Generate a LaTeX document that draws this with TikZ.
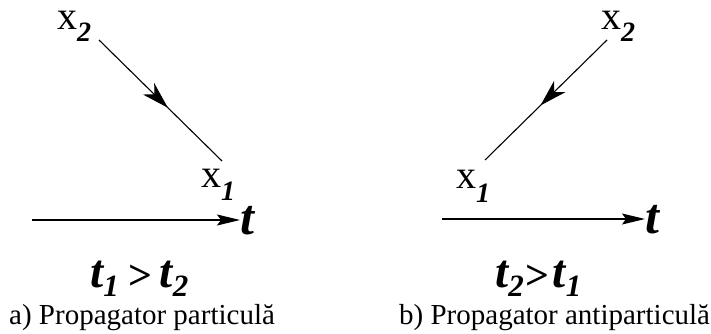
\documentclass[tikz,border=0pt]{standalone}
\usepackage{fontspec}
\setmainfont{Liberation Serif}
\usetikzlibrary{arrows.meta,decorations.markings}
\newcommand\xlab[2]{{\fontsize{40}{40}\selectfont x}\raisebox{-#2}{\fontsize{28}{28}\selectfont\bfseries\itshape #1}}
\newcommand\bigT{\fontsize{47}{47}\selectfont\bfseries\itshape}
\newcommand\subT[1]{\raisebox{-9pt}{\fontsize{31}{31}\selectfont\bfseries\itshape #1}}
\newcommand\gtT{\raisebox{-2pt}{\fontsize{42}{42}\selectfont\bfseries >}}
\tikzset{
  lab/.style={inner sep=0pt, anchor=base west},
  axis/.style={line width=1.2pt, -{Stealth[length=23pt,width=11pt,inset=4pt]}},
  prop/.style={line width=1.1pt, postaction={decorate}, decoration={markings,
     mark=at position #1 with {\arrow{Stealth[length=27pt,width=16pt,inset=8pt]}}}},
  tlab/.style={inner sep=0pt, anchor=base west, font=\fontsize{50}{50}\selectfont\bfseries\itshape},
  caption/.style={inner sep=0pt, anchor=base west, font=\fontsize{29}{29}\selectfont}
}
\begin{document}
\begin{tikzpicture}[x=1pt,y=-1pt]
\useasboundingbox (0,0) rectangle (711,334);
% left panel
\node[lab] (ax2) at (57,30) {\xlab{2}{12pt}};
\node[lab] (ax1) at (201,187) {\xlab{1}{13pt}};
\coordinate (as) at (99,40);
\coordinate (ae) at (222,161);
\draw[prop=0.56] (as) -- (ae);
\coordinate (aa) at (32,220);
\node[tlab] (at) at (240,234) {t};
\draw[axis] (aa) -- (at.west |- aa);
\node[lab] (acmp) at (90,287) {\bigT t\subT{1}\hspace{9pt}\gtT\hspace{8pt}t\subT{2}};
\node[caption] (acap) at (9,324) {a) Propagator particulă};
% right panel
\node[lab] (bx2) at (601,30) {\xlab{2}{12pt}};
\node[lab] (bx1) at (456,188) {\xlab{1}{14pt}};
\coordinate (bs) at (607,40);
\coordinate (be) at (485,160);
\draw[prop=0.545] (bs) -- (be);
\coordinate (ba) at (442,219);
\node[tlab] (bt) at (645,233) {t};
\draw[axis] (ba) -- (bt.west |- ba);
\node[lab] (bcmp) at (495,287) {\bigT t\subT{2}\hspace{1pt}\gtT\hspace{4pt}t\subT{1}};
\node[caption] (bcap) at (399,324) {b) Propagator antiparticulă};
\end{tikzpicture}
\end{document}
